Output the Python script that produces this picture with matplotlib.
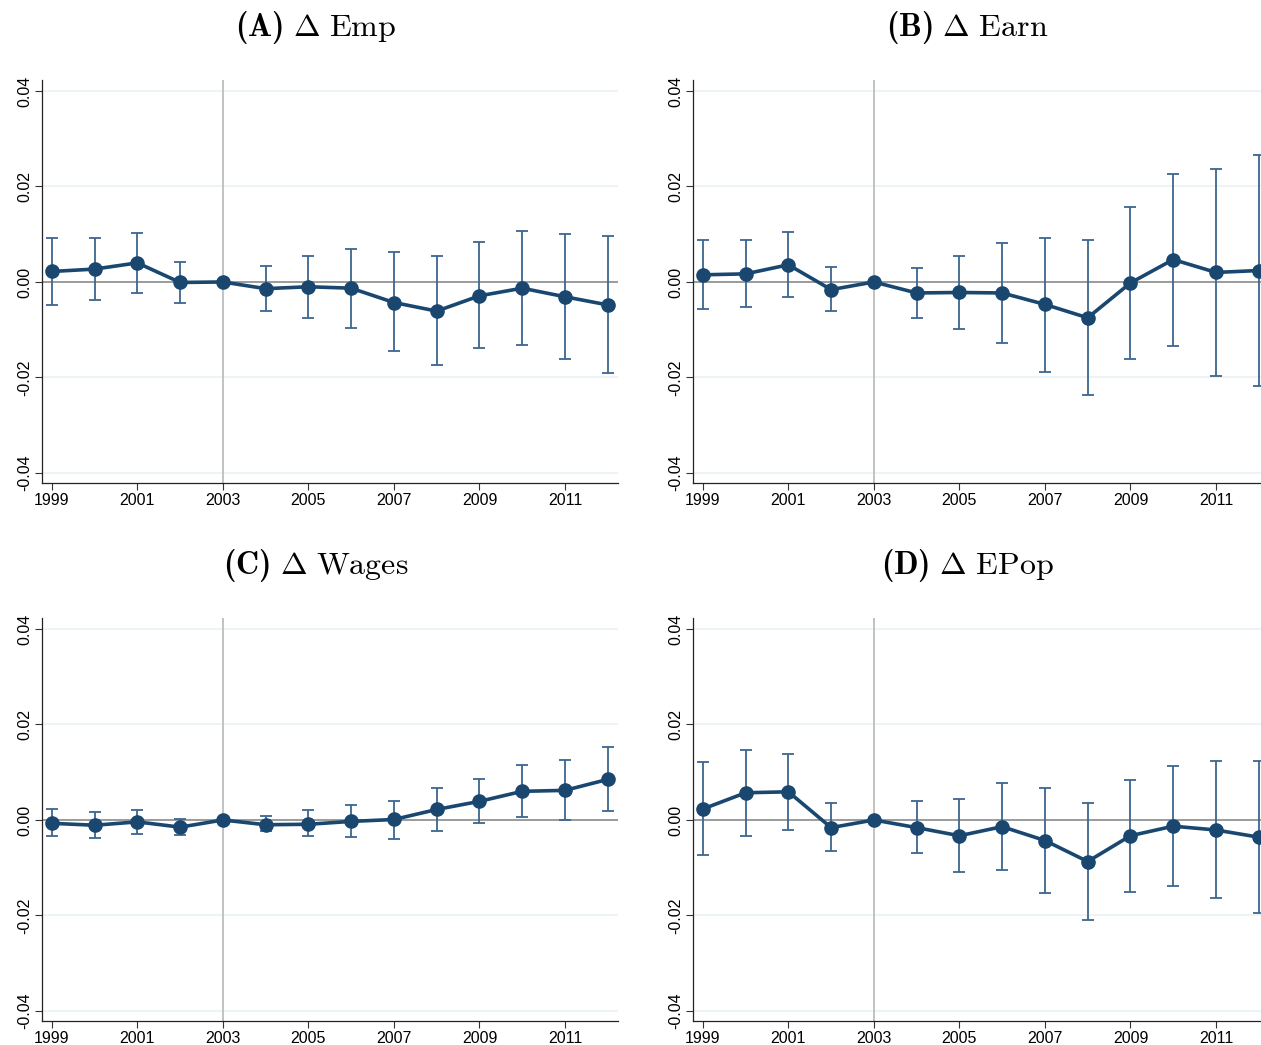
import matplotlib
matplotlib.use("Agg")
import matplotlib.pyplot as plt
import numpy as np

plt.rcParams['font.family'] = ['Liberation Sans', 'DejaVu Sans']
plt.rcParams['mathtext.fontset'] = 'custom'
plt.rcParams['mathtext.rm'] = 'cmr10'
plt.rcParams['mathtext.bf'] = 'cmb10'
plt.rcParams['mathtext.it'] = 'cmmi10'
plt.rcParams['mathtext.fallback'] = 'cm'

# Event-study estimates, base year 2003
years = list(range(1999, 2013))
xticks = [1999, 2001, 2003, 2005, 2007, 2009, 2011]
yticks = [-0.04, -0.02, 0.0, 0.02, 0.04]

emp = [0.0022, 0.0027, 0.0040, -0.0001, 0.0, -0.0014, -0.0010, -0.0013, -0.0043, -0.0061, -0.0029, -0.0013, -0.0031, -0.0048]
emp_hi = [0.0092, 0.0092, 0.0103, 0.0042, 0.0, 0.0034, 0.0055, 0.0069, 0.0062, 0.0054, 0.0083, 0.0106, 0.0101, 0.0096]
emp_lo = [-0.0048, -0.0038, -0.0024, -0.0045, 0.0, -0.0061, -0.0076, -0.0096, -0.0145, -0.0174, -0.0139, -0.0131, -0.0162, -0.0191]

earn = [0.0015, 0.0017, 0.0036, -0.0016, 0.0, -0.0023, -0.0022, -0.0023, -0.0047, -0.0075, -0.0002, 0.0047, 0.0020, 0.0024]
earn_hi = [0.0088, 0.0088, 0.0104, 0.0031, 0.0, 0.0030, 0.0055, 0.0081, 0.0092, 0.0088, 0.0158, 0.0227, 0.0236, 0.0266]
earn_lo = [-0.0056, -0.0052, -0.0032, -0.0060, 0.0, -0.0075, -0.0099, -0.0127, -0.0188, -0.0237, -0.0162, -0.0135, -0.0197, -0.0218]

wages = [-0.0007, -0.0011, -0.0004, -0.0015, 0.0, -0.0010, -0.0009, -0.0003, 0.0001, 0.0022, 0.0039, 0.0060, 0.0062, 0.0085]
wages_hi = [0.0022, 0.0017, 0.0020, 0.0003, 0.0, 0.0008, 0.0020, 0.0031, 0.0040, 0.0067, 0.0086, 0.0115, 0.0125, 0.0152]
wages_lo = [-0.0034, -0.0037, -0.0029, -0.0032, 0.0, -0.0024, -0.0034, -0.0036, -0.0039, -0.0023, -0.0007, 0.0006, -0.0001, 0.0019]

epop = [0.0023, 0.0057, 0.0059, -0.0016, 0.0, -0.0016, -0.0033, -0.0014, -0.0043, -0.0087, -0.0033, -0.0013, -0.0021, -0.0036]
epop_hi = [0.0121, 0.0146, 0.0138, 0.0036, 0.0, 0.0039, 0.0044, 0.0078, 0.0068, 0.0036, 0.0084, 0.0113, 0.0123, 0.0123]
epop_lo = [-0.0074, -0.0033, -0.0020, -0.0066, 0.0, -0.0070, -0.0108, -0.0104, -0.0153, -0.0209, -0.0150, -0.0138, -0.0164, -0.0194]

titles = [r"$\mathbf{(A)}\ \Delta\ \mathrm{Emp}$", r"$\mathbf{(B)}\ \Delta\ \mathrm{Earn}$",
          r"$\mathbf{(C)}\ \Delta\ \mathrm{Wages}$", r"$\mathbf{(D)}\ \Delta\ \mathrm{EPop}$"]

panels = [(emp, emp_lo, emp_hi), (earn, earn_lo, earn_hi),
          (wages, wages_lo, wages_hi), (epop, epop_lo, epop_hi)]

navy = '#1a476f'
bar_col = '#3d6690'

fig = plt.figure(figsize=(12.61, 10.45), dpi=100)
W, H = 1261, 1045
boxes = [(42, 80, 576, 403), (693, 80, 576, 403), (42, 618, 576, 403), (693, 618, 576, 403)]
title_y = [28, 28, 566, 566]

for (x0, y0, w, h), ty, title, (est, lo, hi) in zip(boxes, title_y, titles, panels):
    ax = fig.add_axes([x0 / W, 1 - (y0 + h) / H, w / W, h / H])
    est = np.array(est)
    yerr = [est - np.array(lo), np.array(hi) - est]

    for g in yticks:
        ax.axhline(g, color='#eaf2f3', lw=1.2, zorder=0)
    ax.axhline(0, color='#8c8c8c', lw=1.2, zorder=1)
    ax.axvline(2003, color='#b8b8b8', lw=1.2, zorder=1)

    ax.errorbar(years, est, yerr=yerr, fmt='none', ecolor=bar_col, elinewidth=1.3,
                capsize=4, capthick=1.3, zorder=2)
    ax.plot(years, est, color=navy, lw=2.6, marker='o', ms=9.5, zorder=3)

    ax.set_xlim(1998.77, 2012.24)
    ax.set_ylim(-0.0421, 0.0423)
    ax.set_xticks(xticks)
    ax.set_yticks(yticks)
    ax.set_yticklabels(['-0.04', '-0.02', '0.00', '0.02', '0.04'], rotation=90, va='center')
    ax.tick_params(labelsize=11.5, length=5, width=0.8, color='#333333')
    ax.tick_params(axis='x', pad=2)
    ax.tick_params(axis='y', pad=2)
    for s in ['top', 'right']:
        ax.spines[s].set_visible(False)
    for s in ['left', 'bottom']:
        ax.spines[s].set_linewidth(0.9)
        ax.spines[s].set_color('#222222')
    fig.text((x0 + 288 - 14) / W, 1 - ty / H, title, fontsize=23, ha='center', va='center')

fig.savefig('out.png', dpi=100)
